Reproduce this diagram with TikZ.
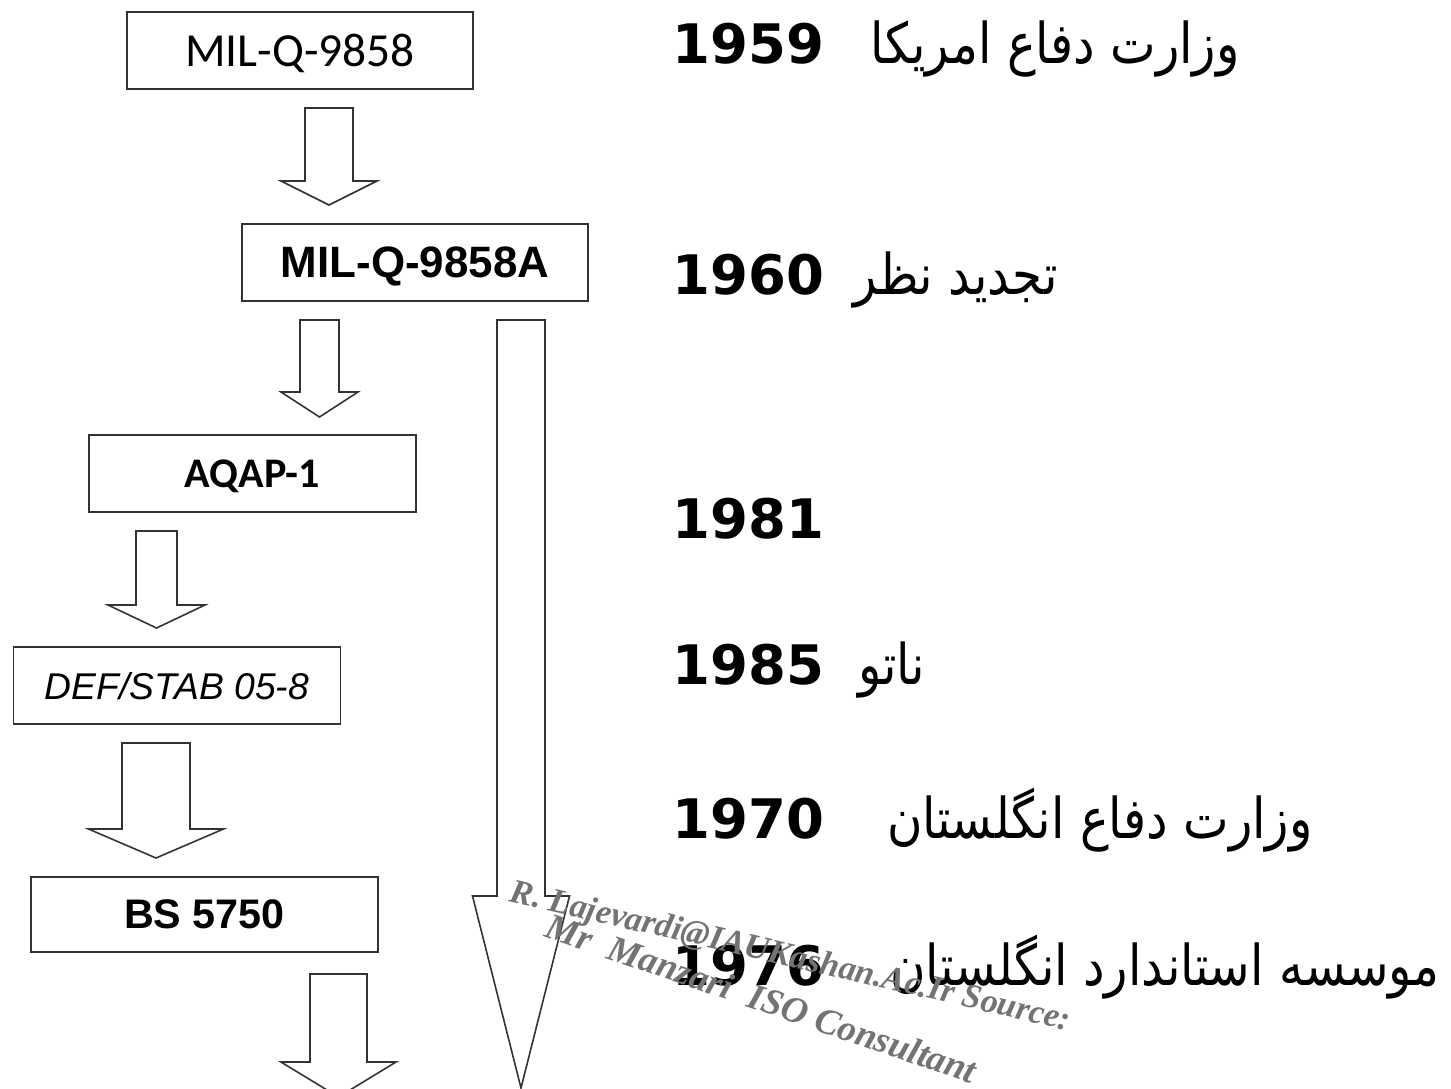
\documentclass[tikz,border=0pt]{standalone}
\usepackage{fontspec}
\setmainfont{Liberation Sans}
\newfontfamily\calfont{Carlito}
\newfontfamily\yearfont{DejaVu Sans}
\newfontfamily\arabicfont[Script=Arabic,FakeStretch=0.86]{DejaVu Sans}
\newfontfamily\wmfont{Liberation Serif}
\TeXXeTstate=1

% hollow block arrow pointing down: x, shaft half, head half, top, neck, tip
\newcommand{\downblock}[6]{%
  \draw[blockarr] (#1-#2,#4) -- (#1+#2,#4) -- (#1+#2,#5) -- (#1+#3,#5)
    -- (#1,#6) -- (#1-#3,#5) -- (#1-#2,#5) -- cycle;}

\begin{document}
\begin{tikzpicture}[x=0.02cm,y=-0.02cm,
  stdbox/.style={draw=black!80,line width=1.1pt,minimum width=6.92cm,minimum height=1.54cm,inner sep=0pt,text depth=0pt},
  blockarr/.style={draw=black!80,line width=0.9pt,line join=miter},
  yearlbl/.style={anchor=base west,inner sep=0pt,font=\yearfont\bfseries\fontsize{31}{36}\selectfont},
  fatext/.style={anchor=base east,inner sep=0pt,font=\arabicfont\fontsize{32}{38}\selectfont},
  wmark/.style={anchor=north west,inner sep=0pt,text=black!55,font=\wmfont\bfseries\itshape\fontsize{21}{24}\selectfont}]

\useasboundingbox (0,0) rectangle (1451,1089);

% standards, left column
\node[stdbox,font=\calfont\fontsize{27}{31}\selectfont] (q9858) at (300,50.5) {MIL-Q-9858};
\node[stdbox,font=\bfseries\fontsize{25}{29}\selectfont] (q9858a) at (415,262.5) {MIL-Q-9858A};
\node[stdbox,minimum width=6.54cm,font=\calfont\bfseries\fontsize{24}{28}\selectfont] (aqap) at (252.5,473.5) {AQAP-1};
\node[stdbox,minimum width=6.54cm,font=\itshape\fontsize{21.2}{25}\selectfont] (defstab) at (177,685.5) {DEF/STAB 05-8};
\node[stdbox,minimum width=6.94cm,minimum height=1.5cm,font=\bfseries\fontsize{23.5}{27}\selectfont] (bs5750) at (204.5,914.5) {BS 5750};

\downblock{329}{24}{48}{108}{181}{205}
\downblock{319.5}{19.5}{38.5}{320}{392}{417}
\downblock{156.5}{20.5}{48.5}{531}{605}{628}
\downblock{156}{34}{67.5}{743}{829}{858}
\downblock{338.5}{28.5}{57.5}{974}{1062}{1097}
% long time arrow
\downblock{521}{24}{48.5}{320}{896}{1088}

% years and who issued them
\node[yearlbl] (y1959) at (672,63) {1959};
\node[fatext] (t1959) at (1240,63) {\beginR وزارت دفاع امریکا\endR};
\node[yearlbl] (y1960) at (672,294) {1960};
\node[fatext] (t1960) at (1058,294) {\beginR تجدید نظر\endR};
\node[yearlbl] (y1981) at (672,538) {1981};
\node[yearlbl] (y1985) at (672,684) {1985};
\node[fatext] (t1985) at (925,684) {\beginR ناتو\endR};
\node[yearlbl] (y1970) at (672,838) {1970};
\node[fatext] (t1970) at (1313,838) {\beginR وزارت دفاع انگلستان\endR};
\node[yearlbl] (y1976) at (672,985) {1976};
\node[fatext] (t1976) at (1440,985) {\beginR موسسه استاندارد انگلستان\endR};

% watermark
\node[wmark,rotate=-13,font=\wmfont\bfseries\itshape\fontsize{19.5}{23}\selectfont] (wm1) at (514,878) {R. Lajevardi@IAUKashan.Ac.Ir\ Source:};
\node[wmark,rotate=-19] (wm2) at (552,912) {Mr\ \ Manzari\ \ ISO Consultant};
\end{tikzpicture}
\end{document}
